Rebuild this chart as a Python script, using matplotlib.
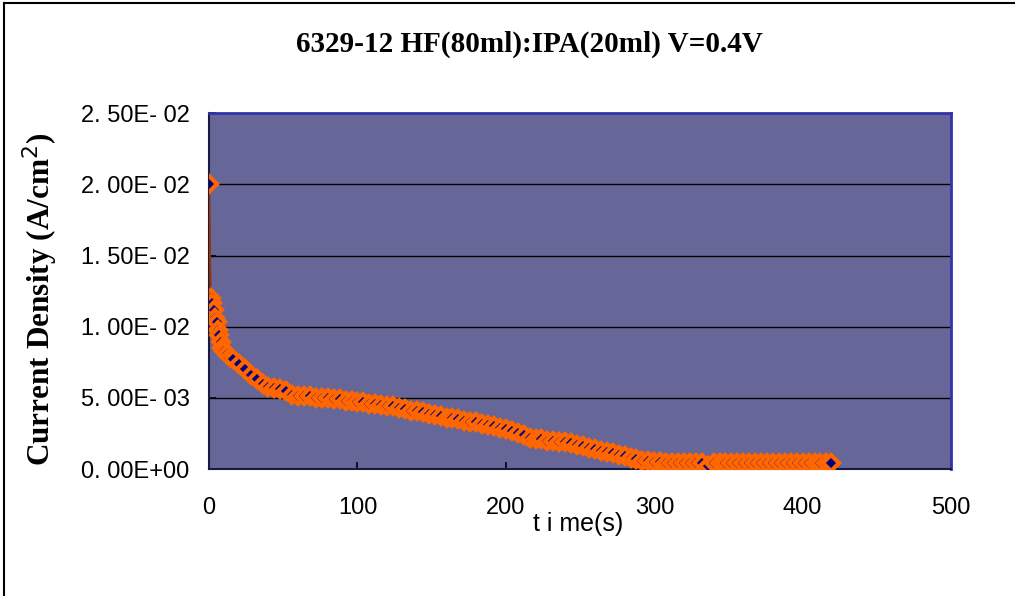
import matplotlib.pyplot as plt
from matplotlib.lines import Line2D

# 측정 데이터 (time [s], current density [A/cm^2])
t_early = [0, 1, 2, 3, 4, 5, 6, 7, 8, 9, 10]
j_early = [0.0200, 0.0120, 0.0117, 0.0112, 0.0106, 0.0103, 0.0098, 0.0094, 0.0089, 0.0085, 0.0083]

t_main = [12, 14, 16, 20, 24, 28, 32, 36, 40, 44, 48, 52, 56, 60, 64, 68, 72, 76, 80,
          84, 88, 92, 96, 100, 104, 108, 112, 116, 120, 124, 128, 132, 136, 140, 144,
          148, 152, 156, 160, 164, 168, 172, 176, 180, 184, 188, 192, 196, 200, 204,
          208, 212, 216, 220, 224, 228, 232, 236, 240, 244, 248, 252, 256, 260, 264,
          268, 272, 276, 280, 284, 288, 292, 296, 300, 304, 308, 312, 316, 320, 324,
          328, 332, 336, 340, 344, 348, 352, 356, 360, 364, 368, 372, 376, 380, 384,
          388, 392, 396, 400, 404, 408, 412, 416, 419]
j_main = [0.0081, 0.0079, 0.0077, 0.0074, 0.0070, 0.0066, 0.0063, 0.0060, 0.0058, 0.0057,
          0.0056, 0.0055, 0.0052, 0.0051, 0.0051, 0.0051, 0.0050, 0.0050, 0.0050, 0.0049,
          0.0049, 0.0048, 0.0048, 0.0047, 0.0047, 0.0046, 0.0046, 0.0045, 0.0044, 0.0044,
          0.0043, 0.0042, 0.0041, 0.0041, 0.0040, 0.0039, 0.0038, 0.0037, 0.0036, 0.0036,
          0.0035, 0.0034, 0.0033, 0.0033, 0.0032, 0.0031, 0.0030, 0.0029, 0.0028, 0.0027,
          0.0025, 0.0024, 0.0022, 0.0021, 0.0021, 0.0020, 0.0020, 0.0019, 0.0019, 0.0018,
          0.0017, 0.0016, 0.0015, 0.0014, 0.0013, 0.0012, 0.0011, 0.0010, 0.0009, 0.0008,
          0.0007, 0.0006, 0.0006, 0.0005, 0.0005, 0.0004, 0.0004, 0.0004, 0.0004, 0.0004,
          0.0004, 0.0004, 0.0002, 0.0004, 0.0004, 0.0004, 0.0004, 0.0004, 0.0004, 0.0004,
          0.0004, 0.0004, 0.0004, 0.0004, 0.0004, 0.0004, 0.0004, 0.0004, 0.0004, 0.0004,
          0.0004, 0.0004, 0.0004, 0.0004]

time = t_early + t_main
jden = j_early + j_main

y_ticks = [0, 0.005, 0.01, 0.015, 0.02, 0.025]
y_labels = ['0. 00E+00', '5. 00E- 03', '1. 00E- 02', '1. 50E- 02', '2. 00E- 02', '2. 50E- 02']
x_ticks = [0, 100, 200, 300, 400, 500]

fig = plt.figure(figsize=(10.15, 5.96), dpi=100)
ax = fig.add_axes([0.206, 0.213, 0.731, 0.597])
ax.set_facecolor('#666699')

ax.plot(time, jden, color='#993300', lw=1.5, marker='D', ms=8,
        mfc='#000080', mec='#ff6600', mew=3, zorder=3)

ax.set_xlim(0, 500)
ax.set_ylim(0, 0.025)
ax.set_xticks(x_ticks)
ax.set_yticks(y_ticks)
ax.set_yticklabels(y_labels)
ax.yaxis.grid(True, color='black', lw=1)
ax.set_axisbelow(True)

sans = 'Liberation Sans'
serif = 'Liberation Serif'
ax.tick_params(axis='both', direction='in', length=5, width=1.2, labelsize=17)
ax.tick_params(axis='y', pad=14)
ax.tick_params(axis='x', pad=20)
for lab in ax.get_xticklabels() + ax.get_yticklabels():
    lab.set_fontfamily(sans)

for side in ['left', 'bottom']:
    ax.spines[side].set_color('#1a1a40')
    ax.spines[side].set_linewidth(1.5)
for side in ['top', 'right']:
    ax.spines[side].set_color('#3333aa')
    ax.spines[side].set_linewidth(2)

ax.set_xlabel('t i me(s)', fontfamily=sans, fontsize=18, va='center')
ax.xaxis.set_label_coords(0.497, -0.155)
ax.set_ylabel('Current Density (A/cm$^{2}$)', fontfamily=serif, fontweight='bold',
              fontsize=22.5, va='center')
ax.yaxis.set_label_coords(-0.228, 0.478)

fig.text(0.522, 0.926, '6329-12 HF(80ml):IPA(20ml) V=0.4V', fontfamily=serif,
         fontweight='bold', fontsize=21, ha='center', va='center')

# 바깥 테두리
fig.add_artist(Line2D([0.004, 0.004], [0.0, 0.995], color='black', lw=1.5))
fig.add_artist(Line2D([0.004, 1.0], [0.995, 0.995], color='black', lw=1.5))

fig.savefig('out.png', dpi=100)
